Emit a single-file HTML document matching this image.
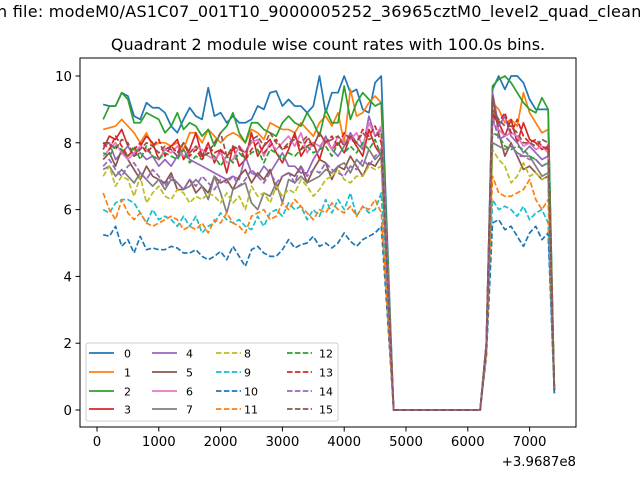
<!DOCTYPE html>
<html><head><meta charset="utf-8"><style>
body{margin:0;background:#fff;width:640px;height:480px;overflow:hidden}
svg text{font-family:"DejaVu Sans","Liberation Sans",sans-serif;fill:#000}
</style></head><body>
<svg id="chart" width="640" height="480" viewBox="0 0 640 480">
<rect width="640" height="480" fill="#fff"/>
<text x="-3" y="17" font-size="16" textLength="676" lengthAdjust="spacing">n file: modeM0/AS1C07_001T10_9000005252_36965cztM0_level2_quad_clean.evt</text>
<text x="328" y="50" font-size="16" text-anchor="middle">Quadrant 2 module wise count rates with 100.0s bins.</text>
<g id="plot"></g>
<rect x="80" y="58" width="496" height="369" fill="none" stroke="#000" stroke-width="1"/>
<g id="axes"></g>
<text x="576" y="466" font-size="13.3" text-anchor="end">+3.9687e8</text>
<g id="legend"></g>
</svg>
<script>
const NS="http://www.w3.org/2000/svg";
const xTicks=[0,1000,2000,3000,4000,5000,6000,7000];
const yTicks=[0,2,4,6,8,10];
const zeros=[0,0,0,0,0,0,0,0,0,0,0,0,0,0,0];
const seg0=[9.15,9.1,9.1,9.5,9.4,8.8,8.7,9.2,9.05,9.05,8.9,8.5,8.3,8.7,9.05,8.8,8.7,9.65,8.8,8.9,8.6,8.8,8.6,8.6,8.7,9.1,9.0,9.5,9.55,9.1,9.3,9.1,9.1,8.9,9.1,10.0,8.9,9.5,9.5,10.0,9.5,9.6,9.0,8.9,9.8,10.0];
const seg1=[8.4,8.45,8.5,8.7,8.5,8.3,8.0,8.3,7.9,8.0,8.0,7.9,8.0,7.8,8.3,8.3,8.0,8.4,8.2,8.0,8.2,8.3,8.2,8.0,8.4,8.3,8.1,8.6,8.5,8.4,8.4,8.3,8.6,8.4,8.2,8.6,8.8,8.5,8.9,8.0,9.6,8.8,8.9,9.2,9.4,9.2];
const seg2=[8.7,9.1,9.1,9.5,9.3,8.6,8.6,8.9,8.8,8.7,8.3,8.5,8.9,8.4,8.6,8.5,8.2,8.4,7.9,8.3,8.5,8.9,8.3,8.0,8.6,8.6,8.4,8.3,8.2,8.6,8.8,8.6,8.5,8.9,8.6,8.2,9.0,8.6,8.6,9.7,8.7,9.2,9.5,9.3,9.1,9.2];
const seg3=[7.8,8.2,8.1,8.4,7.9,7.6,7.9,8.2,8.0,7.5,7.8,7.9,8.1,7.5,7.8,8.3,7.6,8.0,7.4,7.8,7.1,7.9,7.3,7.5,8.3,7.6,7.9,8.1,7.7,7.4,7.8,8.3,7.6,7.9,8.0,7.5,8.1,7.8,8.0,7.7,8.2,7.9,7.6,8.4,7.9,7.6];
const seg4=[7.9,8.0,7.5,7.7,7.9,7.6,7.7,7.5,7.6,7.3,7.5,7.3,7.6,7.8,7.5,7.4,7.3,7.2,7.1,7.0,6.9,7.0,6.9,7.6,7.1,7.0,7.3,7.1,7.4,7.7,7.3,7.3,7.1,7.1,7.5,7.8,8.2,7.8,7.6,7.9,8.3,8.0,7.8,8.8,8.2,8.4];
const seg5=[7.5,7.7,7.3,7.8,7.5,7.2,6.9,7.3,7.0,6.9,6.8,7.1,6.6,6.6,6.9,6.5,6.7,6.5,7.0,6.8,6.9,6.6,7.0,7.2,6.8,7.1,6.9,7.2,6.6,7.0,7.1,7.0,7.3,6.8,7.2,7.5,7.4,6.9,7.3,7.2,7.6,7.3,7.0,7.4,7.3,7.6];
const seg6=[7.6,7.8,8.0,7.7,7.5,7.7,7.9,7.8,7.6,7.5,7.8,7.7,7.9,7.6,7.7,7.9,7.8,7.6,7.5,7.7,7.4,7.5,7.9,7.7,8.0,8.1,7.6,8.0,7.8,8.0,8.2,7.9,8.3,7.7,8.0,7.9,8.1,7.8,8.2,8.0,8.1,8.3,7.9,8.6,8.2,8.5];
const seg7=[7.2,7.3,7.0,7.2,7.0,6.8,7.1,6.9,6.7,6.9,6.6,6.9,6.8,6.6,6.7,6.9,6.7,6.3,7.0,6.5,5.9,6.6,6.7,6.8,6.2,6.0,6.5,6.4,6.8,6.2,6.9,6.8,7.0,6.8,6.9,7.0,7.2,7.1,7.3,7.4,7.1,7.5,7.3,7.8,7.5,7.7];
const seg8=[7.0,7.3,6.7,7.0,6.9,6.4,7.0,6.2,6.5,6.7,6.4,6.3,6.6,6.5,6.2,6.4,6.3,6.5,6.4,6.2,6.5,6.2,6.4,6.0,6.7,6.4,6.5,6.2,6.7,6.4,6.6,6.5,6.9,6.7,6.4,6.6,6.9,7.0,7.2,6.9,6.8,7.0,7.0,7.3,7.2,7.3];
const seg9=[6.0,5.9,6.2,6.3,6.3,6.2,5.9,5.6,6.0,5.7,5.8,5.7,5.5,5.8,5.5,5.8,5.3,5.5,5.6,5.9,5.7,5.6,5.7,5.5,5.4,5.8,5.5,5.9,6.0,5.8,6.2,6.0,6.1,5.7,6.0,5.8,6.3,5.9,6.3,6.0,6.5,5.8,6.1,5.9,6.0,6.5];
const seg10=[5.25,5.2,5.5,4.9,5.1,4.7,5.2,4.8,4.85,4.8,4.8,4.9,4.85,4.7,4.7,4.8,4.6,4.5,4.6,4.75,4.5,4.9,4.6,4.3,4.8,4.9,4.7,4.6,4.6,4.8,5.1,4.85,4.95,5.0,5.2,4.9,5.0,4.85,5.0,5.3,5.05,4.9,5.1,5.2,5.3,5.5];
const seg11=[6.5,6.0,5.7,6.3,5.9,5.7,5.9,5.6,5.5,5.6,5.7,5.8,5.7,5.4,5.5,5.4,5.6,5.3,5.7,5.6,5.9,5.6,5.5,5.3,5.8,5.9,6.0,5.7,5.8,6.2,6.0,6.3,6.1,5.9,5.7,6.0,5.9,6.2,6.0,5.9,6.1,5.8,6.1,6.0,6.3,5.9];
const seg12=[7.7,7.6,7.9,7.8,7.6,7.9,7.5,7.9,7.6,7.5,7.7,7.6,7.5,7.8,7.4,7.6,7.5,7.7,7.6,7.3,7.6,7.4,7.7,7.5,7.7,7.8,7.4,7.8,7.7,7.5,7.7,7.6,7.8,7.9,7.7,7.8,7.9,7.6,8.0,7.7,7.9,7.7,8.0,7.8,8.1,7.6];
const seg13=[8.0,7.8,8.2,7.9,7.6,7.8,8.0,7.7,7.9,8.1,7.6,7.9,7.7,8.0,7.6,7.8,7.5,7.9,7.7,7.8,7.6,7.8,7.9,7.5,7.8,8.0,7.7,7.9,8.1,7.8,7.9,8.2,7.8,8.1,7.9,8.3,8.0,8.2,7.9,8.3,8.1,8.0,8.4,8.2,8.5,8.0];
const seg14=[7.3,7.5,7.2,7.0,7.3,7.4,7.1,6.9,7.2,7.0,6.7,7.0,6.8,6.6,6.9,6.7,7.0,6.8,6.6,6.9,6.8,7.0,6.7,6.9,7.2,7.0,6.8,7.1,6.8,7.0,7.1,6.8,7.3,7.0,7.2,7.1,7.4,7.2,7.1,7.0,7.3,7.2,7.5,7.3,7.6,7.8];
const seg15=[8.0,8.0,7.8,8.1,8.0,7.6,7.8,8.0,7.9,7.7,7.9,7.8,7.6,8.0,7.7,7.9,7.6,7.7,8.0,8.3,7.6,7.9,7.8,7.7,8.1,8.2,7.9,8.3,8.0,7.8,8.0,8.1,8.0,8.2,7.9,8.3,8.0,8.1,8.2,7.9,8.2,8.0,8.3,8.1,8.2,8.3];
const mids=[5.0,4.6,4.6,3.9,4.2,3.8,4.2,3.9,3.6,3.0,2.8,3.0,3.9,4.0,3.8,4.1];
const rises=[2.0,2.0,2.0,1.9,2.0,1.9,1.9,1.9,1.8,1.7,1.6,1.7,1.9,1.9,1.9,1.9];
const plat0=[9.6,10.0,9.6,10.0,10.0,9.8,9.3,9.0,9.0,9.0];
const plat1=[9.2,9.0,8.6,8.7,8.5,9.5,8.9,8.6,8.3,8.4];
const plat2=[9.7,9.9,10.0,9.8,9.5,9.2,9.0,8.9,9.35,9.0];
const plat3=[8.8,8.6,8.2,8.7,8.0,8.6,8.1,8.0,7.8,7.9];
const plat4=[9.5,8.5,8.8,8.2,8.0,7.7,7.9,7.7,7.5,7.6];
const plat5=[9.4,8.3,7.6,8.0,7.6,7.2,7.3,7.1,6.9,7.0];
const plat6=[8.6,8.4,8.2,8.3,8.2,7.9,8.0,7.8,7.9,7.7];
const plat7=[8.0,7.9,7.8,7.9,7.7,7.6,7.6,7.3,7.0,7.1];
const plat8=[7.8,7.5,7.3,6.8,7.0,7.4,7.0,7.1,6.9,7.0];
const plat9=[6.3,6.0,6.1,6.0,5.8,6.1,5.7,5.9,6.0,5.6];
const plat10=[5.6,5.7,5.4,5.5,5.2,4.9,5.3,5.5,5.1,5.3];
const plat11=[7.0,6.5,6.4,6.4,6.5,6.6,6.9,6.3,6.0,6.3];
const plat12=[8.3,8.2,7.9,7.8,7.9,7.8,7.6,7.5,7.3,7.4];
const plat13=[8.9,8.6,8.9,8.3,8.7,8.2,8.0,8.1,7.9,7.8];
const plat14=[8.8,8.1,8.2,8.0,7.6,7.6,7.5,7.5,7.3,7.4];
const plat15=[9.0,8.7,8.5,8.5,8.3,8.0,8.0,7.9,8.1,8.0];
const ends=[0.5,0.6,0.6,0.6,0.6,0.7,0.6,0.6,0.6,0.6,0.5,0.6,0.6,0.6,0.6,0.6];
const segs=[seg0,seg1,seg2,seg3,seg4,seg5,seg6,seg7,seg8,seg9,seg10,seg11,seg12,seg13,seg14,seg15];
const plats=[plat0,plat1,plat2,plat3,plat4,plat5,plat6,plat7,plat8,plat9,plat10,plat11,plat12,plat13,plat14,plat15];
const labels=["0","1","2","3","4","5","6","7","8","9","10","11","12","13","14","15"];
const colors=["#1f77b4","#ff7f0e","#2ca02c","#d62728","#9467bd","#8c564b","#e377c2","#7f7f7f","#bcbd22","#17becf","#1f77b4","#ff7f0e","#2ca02c","#d62728","#9467bd","#8c564b"];

const xs=v=>97+v*0.0618;
const ys=v=>410-v*33.4;
const plot=document.getElementById('plot');
const axes=document.getElementById('axes');
function mk(tag,attrs,parent){const e=document.createElementNS(NS,tag);for(const k in attrs)e.setAttribute(k,attrs[k]);parent.appendChild(e);return e;}

xTicks.forEach(t=>{
  const l=mk('line',{x1:xs(t),x2:xs(t),y1:427,y2:431.5,stroke:'#000'},axes);
  
  
  const tx=mk('text',{x:xs(t),y:446,'font-size':13.3,'text-anchor':'middle'},axes);
  tx.textContent=t;
  
  
});
yTicks.forEach(t=>{
  const l=mk('line',{x1:75.5,x2:80,y1:ys(t),y2:ys(t),stroke:'#000'},axes);
  
  
  const tx=mk('text',{x:72,y:ys(t)+5,'font-size':13.3,'text-anchor':'end'},axes);
  tx.textContent=t;
  
  
});

for(let s=0;s<16;s++){
  const vals=segs[s].concat([mids[s]],zeros,[rises[s]],plats[s],[ends[s]]);
  const pts=vals.map((v,i)=>xs((i+1)*100).toFixed(2)+','+ys(v).toFixed(2)).join(' ');
  const p=mk('polyline',{points:pts,fill:'none',stroke:colors[s],'stroke-width':1.7,'stroke-linejoin':'round'},plot);
  if(s>=8)p.setAttribute('stroke-dasharray','5.5,2.4');
  
  
}

const lg=document.getElementById('legend');
const box=mk('rect',{x:86,y:343,width:252,height:78,rx:2,fill:'#fff','fill-opacity':0.8,stroke:'#ccc'},lg);


const colX=[89,152,216,287];
const labX=[124,186,244,319];
const rowY=[353,372,391,409];
for(let s=0;s<16;s++){
  const c=Math.floor(s/4),r=s%4;
  const g=mk('g',{},lg);
  
  
  const l=mk('line',{x1:colX[c],x2:colX[c]+25,y1:rowY[r],y2:rowY[r],stroke:colors[s],'stroke-width':1.7},g);
  if(s>=8)l.setAttribute('stroke-dasharray','5.5,2.4');
  const t=mk('text',{x:labX[c],y:rowY[r]+4.5,'font-size':11},g);
  t.textContent=labels[s];
}
</script>
</body></html>
